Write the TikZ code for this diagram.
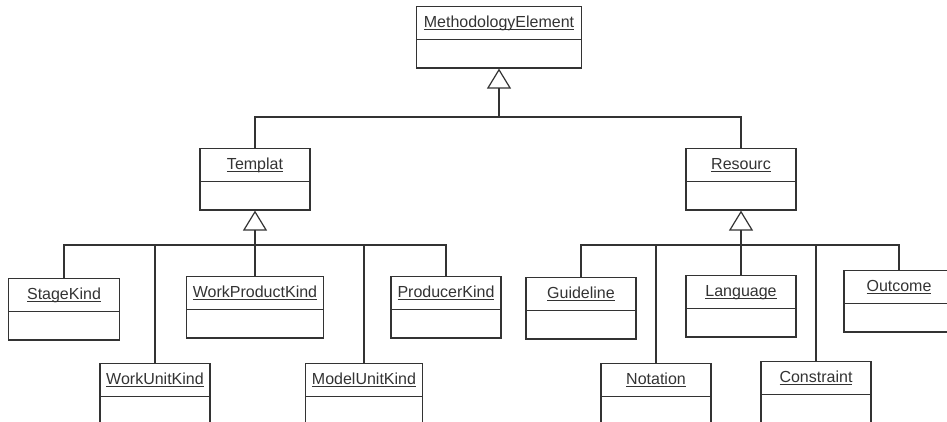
\documentclass[tikz,border=0pt]{standalone}
\usepackage{fontspec}
\setmainfont{Liberation Sans}
\usetikzlibrary{shapes.multipart, arrows.meta, positioning}
\tikzset{x=1pt, y=-1pt,
  class/.style={draw=black!80, line width=1.2pt, rectangle split, rectangle split parts=2,
    inner sep=0pt, text width=#1, align=center, anchor=north,
    font=\fontsize{16}{18}\selectfont, text=black!80},
  class/.default=110pt,
  link/.style={draw=black!80, line width=1.2pt},
  inherit/.style={link, -{Triangle[open, length=20pt, width=24pt]}},
}
\newcommand{\ulname}[1]{\setbox0\hbox{#1}\rlap{\rule[-3pt]{\wd0}{0.8pt}}\box0}
\newcommand{\clsname}[1]{\rule[-12pt]{0pt}{32pt}\ulname{#1}\nodepart{second}\rule{0pt}{27pt}}

\begin{document}
\begin{tikzpicture}
    \useasboundingbox (0,0) rectangle (947,421);
    \node[class=165pt] (me) at (499,6) {\clsname{MethodologyElement}};
    \node[class] (tpl) at (255,148) {\clsname{Templat}};
    \node[class] (res) at (741,148) {\clsname{Resourc}};

    \node[class=111pt] (stage) at (64,278) {\clsname{StageKind}};
    \node[class] (wu) at (155,363) {\clsname{WorkUnitKind}};
    \node[class=137pt] (wp) at (255,276) {\clsname{WorkProductKind}};
    \node[class=117pt] (mu) at (364,363) {\clsname{ModelUnitKind}};
    \node[class] (prod) at (446,276) {\clsname{ProducerKind}};

    \node[class] (guide) at (581,277) {\clsname{Guideline}};
    \node[class] (nota) at (656,363) {\clsname{Notation}};
    \node[class] (lang) at (741,275) {\clsname{Language}};
    \node[class] (cons) at (816,361) {\clsname{Constraint}};
    \node[class] (out) at (899,270) {\clsname{Outcome}};

    \coordinate (mebus) at (499,117);
    \coordinate (tbus) at (255,245);
    \coordinate (rbus) at (741,245);

    \draw[inherit] (mebus) -- (me.south);
    \draw[link]
        (tpl.north) |- (mebus)
        (res.north) |- (mebus);
    \draw[inherit] (tbus) -- (tpl.south);
    \draw[link]
        (stage.north) |- (tbus)
        (wu.north) |- (tbus)
        (wp.north) |- (tbus)
        (mu.north) |- (tbus)
        (prod.north) |- (tbus);
    \draw[inherit] (rbus) -- (res.south);
    \draw[link]
        (guide.north) |- (rbus)
        (nota.north) |- (rbus)
        (lang.north) |- (rbus)
        (cons.north) |- (rbus)
        (out.north) |- (rbus);
\end{tikzpicture}
\end{document}
